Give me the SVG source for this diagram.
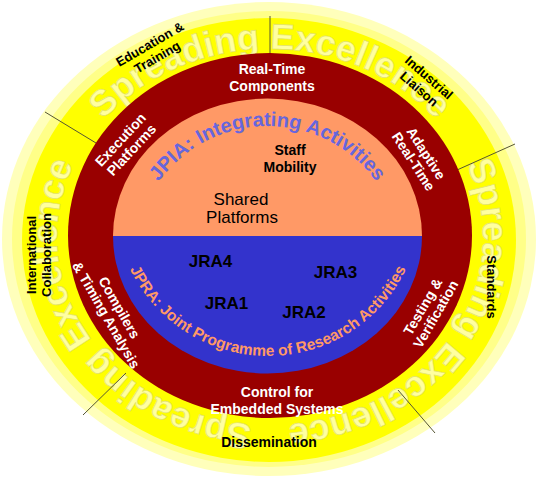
<svg xmlns="http://www.w3.org/2000/svg" width="539" height="478" viewBox="0 0 539 478">
<style>
.lbl{font-family:"Liberation Sans",Arial,sans-serif;font-weight:bold;font-size:14px;text-anchor:middle}
.y{font-size:13px}
.w{fill:#ffffff}
.k{fill:#000000}
.big{font-family:"Liberation Sans",Arial,sans-serif;font-weight:bold;font-size:36px;fill:#ffffa0;stroke:#e2e26a;stroke-width:0.7}
.div{stroke:#555533;stroke-width:1;fill:none}
</style>
<defs>
<path id="ringPath" d="M270,425 A213,188 0 0 1 270,49 A213,188 0 0 1 270,425"/>
<path id="jpiaPath" d="M133.5,260 A134,134 0 0 1 401.5,260"/>
<path id="jpraPath" d="M115,203 A153,153 0 0 0 421,203"/>
</defs>
<rect width="539" height="478" fill="#ffffff"/>
<g id="outer-ring">
<ellipse cx="269" cy="239" rx="267" ry="237" fill="#ffffbb"/>
<ellipse cx="269" cy="239" rx="257" ry="228" fill="#ffff88"/>
<ellipse cx="269" cy="240" rx="247" ry="222" fill="#ffff00"/>
<text class="big"><textPath href="#ringPath" startOffset="16.2%" text-anchor="middle">Spreading Excellence</textPath></text>
<text class="big"><textPath href="#ringPath" startOffset="50%" text-anchor="middle">Spreading Excellence</textPath></text>
<text class="big"><textPath href="#ringPath" startOffset="83.8%" text-anchor="middle">Spreading Excellence</textPath></text>
</g>
<g id="connectors">
<line class="div" x1="270" y1="16" x2="270" y2="54"/>
<line class="div" x1="45" y1="112" x2="96" y2="143"/>
<line class="div" x1="515" y1="144" x2="457" y2="170"/>
<line class="div" x1="83" y1="415" x2="126" y2="373"/>
<line class="div" x1="398" y1="390" x2="435" y2="433"/>
</g>
<g id="red-ring">
<ellipse cx="270" cy="235.5" rx="202" ry="182.5" fill="#990000"/>
</g>
<g id="jpia">
<path d="M113,236 A154.5,137.5 0 0 1 422,236 Z" fill="#ff9966"/>
<text style="font-family:'Liberation Sans',Arial,sans-serif;font-weight:bold;font-size:20px;fill:#6666dd"><textPath href="#jpiaPath" startOffset="50%" text-anchor="middle">JPIA: Integrating Activities</textPath></text>
</g>
<g id="jpra">
<path d="M113,236 A154.5,137.5 0 0 0 422,236 Z" fill="#3333cc"/>
<text style="font-family:'Liberation Sans',Arial,sans-serif;font-weight:bold;font-size:15.5px;fill:#ff9966"><textPath href="#jpraPath" startOffset="50%" text-anchor="middle">JPRA: Joint Programme of Research Activities</textPath></text>
</g>
<g id="staff-mobility"><text class="lbl k" x="290" y="155">Staff<tspan x="290" y="172">Mobility</tspan></text></g>
<g id="shared-platforms"><text style="font-family:'Liberation Sans',Arial,sans-serif;font-size:17px;text-anchor:middle" x="241" y="205">Shared<tspan x="242" y="223">Platforms</tspan></text></g>
<g id="jra4"><text class="lbl k" style="font-size:17px" x="210.5" y="267">JRA4</text></g>
<g id="jra3"><text class="lbl k" style="font-size:17px" x="335.5" y="278">JRA3</text></g>
<g id="jra1"><text class="lbl k" style="font-size:17px" x="226.5" y="309">JRA1</text></g>
<g id="jra2"><text class="lbl k" style="font-size:17px" x="304" y="318">JRA2</text></g>
<g id="real-time-components"><text class="lbl w" x="272" y="74">Real-Time<tspan x="272" y="91">Components</tspan></text></g>
<g id="execution-platforms"><text class="lbl w" transform="translate(124,143) rotate(-47)"><tspan x="0" y="0">Execution</tspan><tspan x="0" y="15">Platforms</tspan></text></g>
<g id="adaptive-real-time"><text class="lbl w" transform="translate(422,156) rotate(57)"><tspan x="0" y="0">Adaptive</tspan><tspan x="0" y="15">Real-Time</tspan></text></g>
<g id="compilers"><text class="lbl w" transform="translate(115,310) rotate(60)"><tspan x="0" y="0">Compilers</tspan><tspan x="0" y="15">&amp; Timing Analysis</tspan></text></g>
<g id="testing-verification"><text class="lbl w" transform="translate(427,309) rotate(-60)"><tspan x="0" y="0">Testing &amp;</tspan><tspan x="0" y="15">Verification</tspan></text></g>
<g id="control-embedded"><text class="lbl w" x="277" y="397">Control for<tspan x="277" y="414">Embedded Systems</tspan></text></g>
<g id="education-training"><text class="lbl y k" transform="translate(152,48) rotate(-30)"><tspan x="0" y="0">Education &amp;</tspan><tspan x="0" y="15">Training</tspan></text></g>
<g id="industrial-liaison"><text class="lbl y k" transform="translate(426,81) rotate(41)"><tspan x="0" y="0">Industrial</tspan><tspan x="0" y="15">Liaison</tspan></text></g>
<g id="international-collaboration"><text class="lbl y k" transform="translate(36,255) rotate(-90)"><tspan x="0" y="0">International</tspan><tspan x="0" y="15">Collaboration</tspan></text></g>
<g id="standards"><text class="lbl y k" transform="translate(487,287) rotate(90)">Standards</text></g>
<g id="dissemination"><text class="lbl k" x="269" y="447">Dissemination</text></g>
</svg>
